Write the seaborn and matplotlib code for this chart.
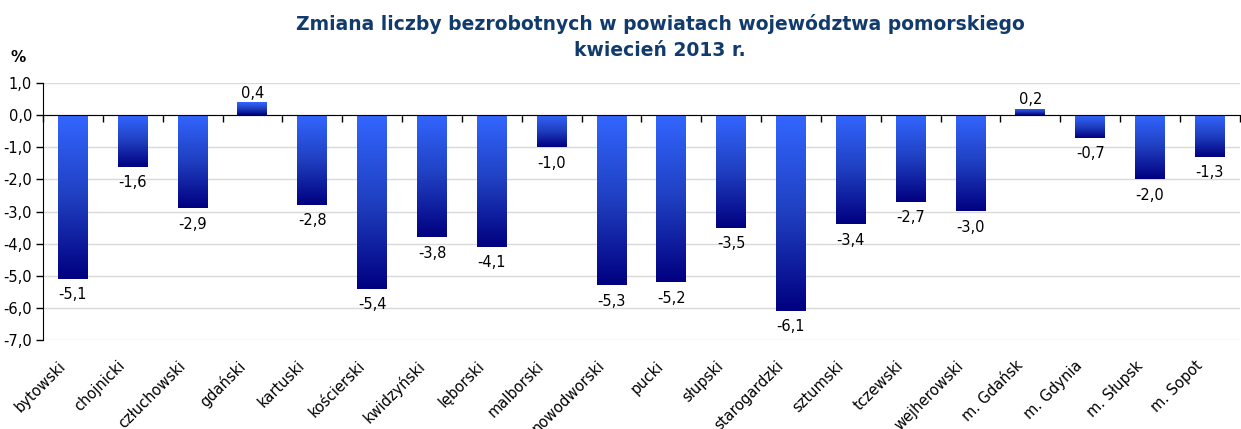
import numpy as np
import pandas as pd
import matplotlib
matplotlib.use('Agg')
import matplotlib.pyplot as plt
from matplotlib.colors import LinearSegmentedColormap
from matplotlib.ticker import FuncFormatter
from matplotlib.transforms import ScaledTranslation
import seaborn as sns

# dane z wykresu
powiaty = ['bytowski', 'chojnicki', 'człuchowski', 'gdański', 'kartuski', 'kościerski',
           'kwidzyński', 'lęborski', 'malborski', 'nowodworski', 'pucki', 'słupski',
           'starogardzki', 'sztumski', 'tczewski', 'wejherowski', 'm. Gdańsk',
           'm. Gdynia', 'm. Słupsk', 'm. Sopot']
zmiana = [-5.1, -1.6, -2.9, 0.4, -2.8, -5.4, -3.8, -4.1, -1.0, -5.3, -5.2, -3.5,
          -6.1, -3.4, -2.7, -3.0, 0.2, -0.7, -2.0, -1.3]

df = pd.DataFrame({'Powiat': powiaty, 'Zmiana': zmiana})

sns.set_style('white')
plt.rcParams['font.family'] = ['DejaVu Sans']
plt.rcParams['text.color'] = 'black'
plt.rcParams['xtick.color'] = 'black'
plt.rcParams['ytick.color'] = 'black'

fig = plt.figure(figsize=(12.41, 4.29), dpi=100)
ax = fig.add_axes([43 / 1241, 1 - 340 / 429, 1 - 43 / 1241 - 0.001, (340 - 83) / 429])

sns.barplot(data=df, x='Powiat', y='Zmiana', color='#3366FF', width=0.5, ax=ax)

# gradient na słupkach: jasny na górze, granatowy na dole
cmap = LinearSegmentedColormap.from_list('grad', ['#000080', '#1F3FC0', '#3366FF'])
grad = np.linspace(0, 1, 256).reshape(-1, 1)
ax.set_ylim(-7, 1)
ax.set_xlim(-0.5, len(powiaty) - 0.5)
for p in list(ax.patches):
    x0, y0 = p.get_x(), p.get_y()
    w, h = p.get_width(), p.get_height()
    lo, hi = min(y0, y0 + h), max(y0, y0 + h)
    im = ax.imshow(grad, cmap=cmap, aspect='auto', origin='lower',
                   extent=[x0, x0 + w, lo, hi], zorder=2)
    im.set_clip_path(p)
    p.set_facecolor('none')
    p.set_edgecolor('none')

# etykiety wartości
for i, v in enumerate(zmiana):
    txt = f'{v:.1f}'.replace('.', ',')
    off = 1 if v >= 0 else -6
    ax.annotate(txt, (i, v), xytext=(0, off), textcoords='offset points',
                ha='center', va='bottom' if v >= 0 else 'top', fontsize=10.5, color='black')

ax.set_xlim(-0.5, len(powiaty) - 0.5)
ax.set_ylim(-7, 1)
ax.set_yticks(np.arange(-7, 2, 1))
ax.yaxis.set_major_formatter(FuncFormatter(lambda y, _: f'{y:.1f}'.replace('.', ',')))
ax.yaxis.grid(True, color='#D9D9D9', linewidth=1)
ax.set_axisbelow(True)
ax.tick_params(axis='y', left=True, length=5, width=1, colors='black', labelsize=10.5, pad=3)
ax.set_xlabel('')
ax.set_ylabel('')

for s in ['top', 'right']:
    ax.spines[s].set_visible(False)
ax.spines['left'].set_color('black')
ax.spines['bottom'].set_position(('data', 0))
ax.spines['bottom'].set_color('black')
ax.spines['bottom'].set_zorder(3)

ax.set_xticks(np.arange(len(powiaty) + 1) - 0.5, minor=True)
ax.tick_params(axis='x', which='major', length=0, labelbottom=False)
ax.tick_params(axis='x', which='minor', bottom=True, length=5, width=1, color='black', direction='out')

sec = ax.secondary_xaxis('bottom')
sec.set_xticks(range(len(powiaty)))
sec.set_xticklabels(powiaty, rotation=45, ha='right', rotation_mode='anchor', fontsize=10.5,
                    color='black')
sec.tick_params(length=0, pad=13)
sec.spines['bottom'].set_visible(False)
shift = ScaledTranslation(-0.15, 0, fig.dpi_scale_trans)
for lab in sec.get_xticklabels():
    lab.set_transform(lab.get_transform() + shift)

fig.text(660 / 1241, 1 - 37 / 429,
         'Zmiana liczby bezrobotnych w powiatach województwa pomorskiego\nkwiecień 2013 r.',
         ha='center', va='center', fontsize=13.5, fontweight='bold', color='#123B6D',
         linespacing=1.4)
fig.text(18 / 1241, 1 - 57 / 429, '%', ha='center', va='center', fontsize=11, fontweight='bold')

fig.savefig('out.png', dpi=100)
